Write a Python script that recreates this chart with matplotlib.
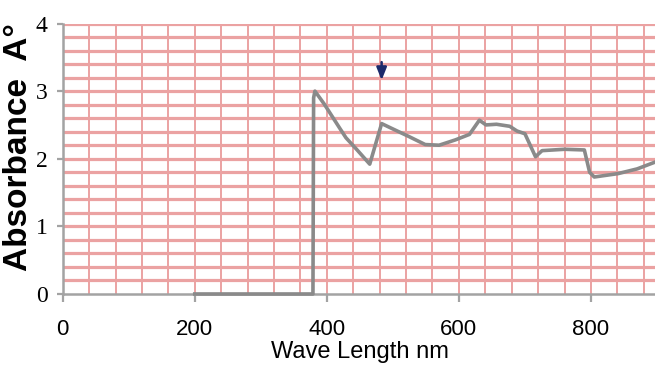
import numpy as np
import matplotlib
matplotlib.use("Agg")
import matplotlib.pyplot as plt

# Absorption spectrum (wavelength in nm, absorbance)
wavelength = [200, 379, 380, 382, 396, 419, 429, 445, 465, 483, 498, 524, 549,
              570, 595, 616, 631, 641, 657, 677, 688, 700, 716, 726, 760,
              790, 798, 805, 841, 870, 897]
absorbance = [0.0, 0.0, 2.90, 3.00, 2.81, 2.46, 2.31, 2.14, 1.92, 2.52, 2.45,
              2.33, 2.21, 2.20, 2.28, 2.36, 2.57, 2.50, 2.51, 2.48, 2.41,
              2.37, 2.03, 2.12, 2.14, 2.13, 1.80, 1.73, 1.78, 1.85, 1.95]

# Marked peak
marker_x = 483
marker_top = 3.47
marker_tip = 3.12

x_ticks = [0, 200, 400, 600, 800]
y_ticks = [0, 1, 2, 3, 4]
x_grid_step = 40
y_grid_step = 0.2
x_max = 897
y_max = 4

grid_color = "#EBA2A2"
axis_color = "#A3A3A3"
line_color = "#8A8A8A"
arrow_color = "#1B2A6B"

fig = plt.figure(figsize=(6.55, 3.69), dpi=100)
ax = fig.add_axes([0.0957, 0.2033, 0.9043, 0.733])
ax.set_xlim(0, x_max)
ax.set_ylim(0, y_max)

# Background grid
for gx in np.arange(x_grid_step, x_max, x_grid_step):
    ax.axvline(gx, color=grid_color, lw=1.4, zorder=1)
for gy in np.arange(y_grid_step, y_max + 1e-9, y_grid_step):
    ax.axhline(gy, color=grid_color, lw=2.3, zorder=1)

ax.plot(wavelength, absorbance, color=line_color, lw=2.6,
        solid_joinstyle="round", zorder=3, clip_on=False)

ax.annotate("", xy=(marker_x, marker_tip), xytext=(marker_x, marker_top),
            arrowprops=dict(arrowstyle="-|>,head_length=0.75,head_width=0.3",
                            color=arrow_color, lw=1.8), zorder=4)

for side in ("top", "right"):
    ax.spines[side].set_visible(False)
for side in ("left", "bottom"):
    ax.spines[side].set_color(axis_color)
    ax.spines[side].set_linewidth(1.8)
    ax.spines[side].set_zorder(2)

ax.set_xticks(x_ticks)
ax.set_yticks(y_ticks)
ax.tick_params(axis="x", direction="out", length=6, width=1.6,
               color=axis_color, pad=12, labelsize=16,
               labelfontfamily="Liberation Sans")
ax.tick_params(axis="y", direction="out", length=4, width=1.6,
               color=axis_color, pad=7, labelsize=17,
               labelfontfamily="Liberation Serif")

ax.set_xlabel("Wave Length nm", family="Liberation Sans", fontsize=17,
              va="center")
ax.xaxis.set_label_coords(0.502, -0.215)
ax.set_ylabel("Absorbance  A°", family="Liberation Sans", fontweight="bold",
              fontsize=24, va="center")
ax.yaxis.set_label_coords(-0.074, 0.543)

fig.savefig("out.png", dpi=100)
